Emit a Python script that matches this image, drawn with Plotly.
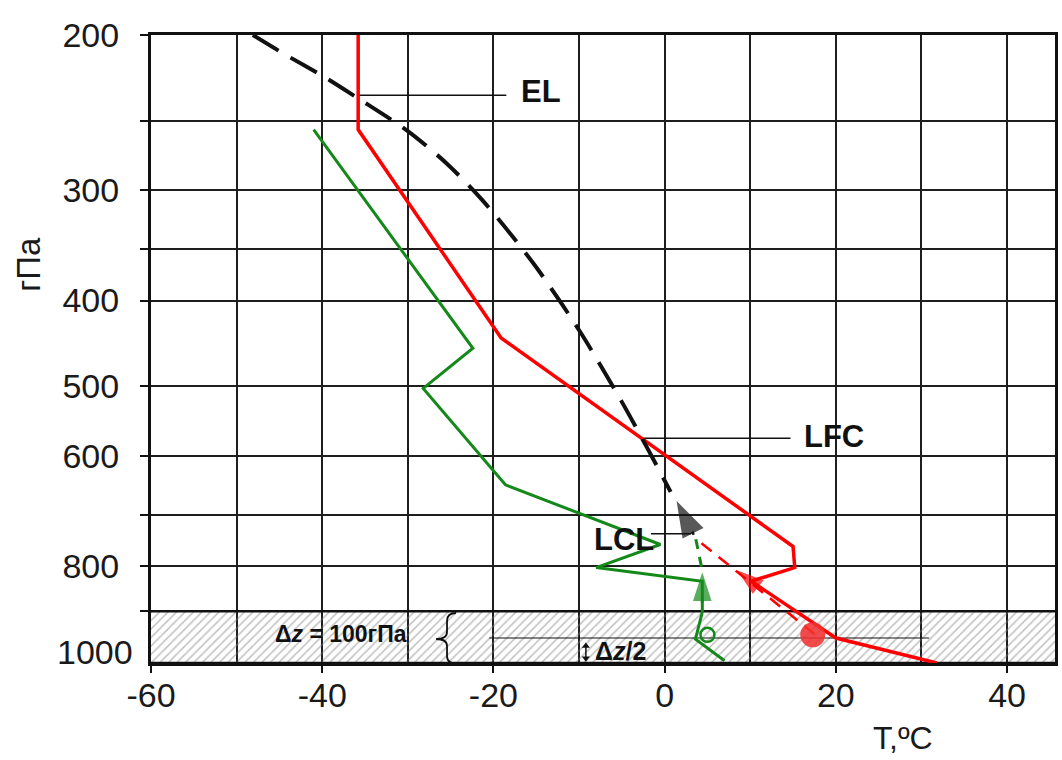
import math
import plotly.graph_objects as go

# Environmental temperature profile: pressure (hPa) and temperature (°C)
temp_p = [200, 256, 441, 760, 803, 832, 965, 1030]
temp_t = [-35.8, -35.8, -19.1, 15.0, 15.2, 10.1, 20.0, 31.8]

# Environmental dew point profile
dew_p = [256, 453, 503, 647, 756, 803, 832, 902, 968, 1024]
dew_t = [-41.0, -22.4, -28.2, -18.6, -0.5, -8.0, 4.4, 4.4, 3.6, 7.0]

# Parcel path above the condensation level (moist adiabat)
parcel_p = [200, 210, 223, 236, 257, 280, 307, 340, 370, 435, 519, 586, 659]
parcel_t = [-48.1, -44.5, -39.8, -35.8, -30.0, -25.4, -21.4, -17.6, -14.7, -9.8, -5.1, -2.1, 0.7]

# Layer-mean parcel at mid-layer
mean_p = 957
mean_t = 17.3
mean_td = 5.0

# Dry adiabat from the layer mean up to the LCL
dry_p = [955, 752]
dry_t = [17.5, 4.2]

# Mixing-ratio line from the layer mean up to the LCL
mix_p = [801, 742]
mix_t = [4.3, 3.6]

# Direction arrows along the parcel paths
arrow_black_p = [737, 675]
arrow_black_t = [3.4, 1.4]
arrow_red_p = [880, 809]
arrow_red_t = [13.2, 8.5]
arrow_green_p = [880, 813]
arrow_green_t = [4.4, 4.4]

# Characteristic levels: pressure and leader-line start/end temperature
el_p, el_t = 234, [-35.8, -18.5]
lfc_p, lfc_t = 573, [-2.7, 14.7]
lcl_p, lcl_t = 735, [-1.6, 3.1]

# Surface layer (Δz = 100 hPa) and its middle
layer_top, layer_bottom = 900, 1030
mid_p, mid_t = 965, [-20.5, 30.9]
half_arrow_t, half_arrow_p = -9.2, [985, 1017]

# Axes
x_range = [-60, 45.6]
x_major = [-60, -40, -20, 0, 20, 40]
x_minor = [-50, -30, -10, 10, 30]
y_major = [200, 300, 400, 500, 600, 800]
y_minor = [250, 350, 700, 900]

RED = "#ff0000"
GREEN = "#14891a"
BLACK = "#111111"
FONT = "Liberation Sans, Arial, sans-serif"

fig = go.Figure()

# hatched surface layer
fig.add_trace(go.Scatter(
    x=[-80, 70, 70, -80, -80], y=[layer_top, layer_top, layer_bottom, layer_bottom, layer_top],
    mode="lines", fill="toself", fillcolor="rgba(255,255,255,0)",
    fillpattern=dict(shape="/", size=6, solidity=0.25, fgcolor="#808080",
                     bgcolor="rgba(255,255,255,0)"),
    line=dict(color=BLACK, width=2.5), hoverinfo="skip"))

# mid-layer line
fig.add_trace(go.Scatter(x=mid_t, y=[mid_p, mid_p], mode="lines",
                         line=dict(color=BLACK, width=1.2), hoverinfo="skip"))

# half-layer double arrow
fig.add_trace(go.Scatter(x=[half_arrow_t, half_arrow_t], y=half_arrow_p, mode="lines+markers",
                         line=dict(color=BLACK, width=1.5),
                         marker=dict(symbol=["triangle-up", "triangle-down"], size=7, color=BLACK),
                         hoverinfo="skip"))

# leader lines for EL, LFC, LCL
for p, t in [(el_p, el_t), (lfc_p, lfc_t), (lcl_p, lcl_t)]:
    fig.add_trace(go.Scatter(x=t, y=[p, p], mode="lines",
                             line=dict(color=BLACK, width=1.5), hoverinfo="skip"))

# dew point
fig.add_trace(go.Scatter(x=dew_t, y=dew_p, mode="lines",
                         line=dict(color=GREEN, width=3), hoverinfo="skip"))
# temperature
fig.add_trace(go.Scatter(x=temp_t, y=temp_p, mode="lines",
                         line=dict(color=RED, width=3.5), hoverinfo="skip"))
# parcel moist adiabat
fig.add_trace(go.Scatter(x=parcel_t, y=parcel_p, mode="lines",
                         line=dict(color=BLACK, width=4, dash="30px,14px",
                                   shape="spline", smoothing=0.8),
                         hoverinfo="skip"))
# dry adiabat and mixing-ratio line to the LCL
fig.add_trace(go.Scatter(x=dry_t, y=dry_p, mode="lines",
                         line=dict(color=RED, width=2.5, dash="13px,9px"), hoverinfo="skip"))
fig.add_trace(go.Scatter(x=mix_t, y=mix_p, mode="lines",
                         line=dict(color=GREEN, width=3, dash="10px,8px"), hoverinfo="skip"))

# arrows
for t, p, c, w, s in [(arrow_black_t, arrow_black_p, BLACK, 2.5, 38),
                      (arrow_red_t, arrow_red_p, RED, 0, 28),
                      (arrow_green_t, arrow_green_p, GREEN, 3, 30)]:
    fig.add_trace(go.Scatter(
        x=t, y=p, mode="lines+markers",
        line=dict(color=c if w else "rgba(0,0,0,0)", width=w if w else 1),
        marker=dict(symbol=["circle", "arrow"], size=[0, s], angleref="previous",
                    color=c, line=dict(width=0)),
        hoverinfo="skip"))

# layer-mean markers
fig.add_trace(go.Scatter(x=[mean_t], y=[mean_p], mode="markers",
                         marker=dict(size=25, color="rgba(240,50,50,0.88)", line=dict(width=0)),
                         hoverinfo="skip"))
fig.add_trace(go.Scatter(x=[mean_td], y=[mean_p], mode="markers",
                         marker=dict(size=14, symbol="circle-open", color=GREEN,
                                     line=dict(width=2.5, color=GREEN)),
                         hoverinfo="skip"))

lg = math.log10
annotations = [
    dict(x=-17.0, y=lg(232), text="<b>EL</b>", xanchor="left", yanchor="middle",
         font=dict(family=FONT, size=31, color=BLACK)),
    dict(x=16.1, y=lg(571), text="<b>LFC</b>", xanchor="left", yanchor="middle",
         font=dict(family=FONT, size=31, color=BLACK)),
    dict(x=-1.0, y=lg(746), text="<b>LCL</b>", xanchor="right", yanchor="middle",
         font=dict(family=FONT, size=31, color=BLACK)),
    dict(x=-45.7, y=lg(955), text="<b>Δ<i>z</i> = 100гПа</b>", xanchor="left", yanchor="middle",
         font=dict(family=FONT, size=23, color=BLACK)),
    dict(x=-8.4, y=lg(998), text="<b>Δ<i>z</i>/2</b>", xanchor="left", yanchor="middle",
         font=dict(family=FONT, size=25, color=BLACK)),
    # bottom pressure label
    dict(xref="paper", x=-0.0176, y=lg(1000), text="1000", xanchor="right", yanchor="middle",
         font=dict(family=FONT, size=34, color="#1a1a1a")),
    # axis titles
    dict(xref="paper", yref="paper", x=-0.135, y=0.6355, text="гПа", textangle=-90,
         xanchor="center", yanchor="middle", font=dict(family=FONT, size=33, color="#1a1a1a")),
    dict(xref="paper", yref="paper", x=0.832, y=-0.119, text="T,ºC",
         xanchor="center", yanchor="middle", font=dict(family=FONT, size=32, color="#1a1a1a")),
]
for a in annotations:
    a.setdefault("xref", "x")
    a.setdefault("yref", "y")
    a["showarrow"] = False

# curly brace marking the layer thickness
bx = lambda px: (px - 151) / 907
by = lambda py: (663 - py) / 628
brace = (f"M {bx(457)},{by(613)} Q {bx(448)},{by(613)} {bx(448)},{by(621)} "
         f"L {bx(448)},{by(632)} Q {bx(448)},{by(639)} {bx(437)},{by(639)} "
         f"Q {bx(448)},{by(639)} {bx(448)},{by(646)} "
         f"L {bx(448)},{by(656)} Q {bx(448)},{by(664)} {bx(459)},{by(664)}")

fig.update_layout(
    width=1062, height=760,
    margin=dict(l=151, r=4, t=35, b=97),
    paper_bgcolor="white", plot_bgcolor="white",
    showlegend=False,
    annotations=annotations,
    shapes=[dict(type="path", path=brace, xref="paper", yref="paper",
                 line=dict(color=BLACK, width=1.8))],
    xaxis=dict(
        range=x_range, tickmode="array", tickvals=x_major,
        ticktext=[str(v) for v in x_major],
        ticks="outside", ticklen=7, tickwidth=1.5, tickcolor=BLACK,
        showgrid=True, gridcolor="#1e1e1e", gridwidth=1.6,
        minor=dict(tickmode="array", tickvals=x_minor, showgrid=True,
                   gridcolor="#1e1e1e", gridwidth=1.6, ticks=""),
        zeroline=False, showline=True, linecolor=BLACK, linewidth=3, mirror=True,
        tickfont=dict(family=FONT, size=34, color="#1a1a1a"), ticklabelstandoff=-7,
    ),
    yaxis=dict(
        type="log", range=[math.log10(1030), math.log10(200)],
        tickmode="array", tickvals=y_major, ticktext=[str(v) for v in y_major],
        ticks="outside", ticklen=8, tickwidth=1.5, tickcolor=BLACK,
        showgrid=True, gridcolor="#1e1e1e", gridwidth=1.6,
        minor=dict(tickmode="array", tickvals=y_minor, showgrid=True,
                   gridcolor="#1e1e1e", gridwidth=1.6, ticks="outside",
                   ticklen=8, tickwidth=1.5, tickcolor=BLACK),
        zeroline=False, showline=True, linecolor=BLACK, linewidth=3, mirror=True,
        tickfont=dict(family=FONT, size=34, color="#1a1a1a"), ticklabelstandoff=14,
    ),
)

fig.write_html("out.html")
